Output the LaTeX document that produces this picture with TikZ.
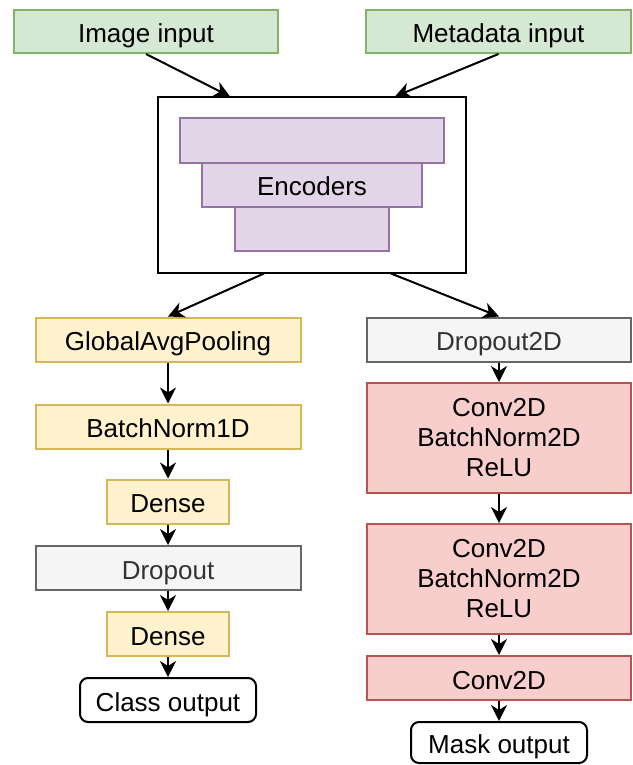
\documentclass[tikz,border=0pt]{standalone}
\usepackage{fontspec}
\setmainfont{Liberation Sans}
\usetikzlibrary{arrows.meta}

\definecolor{inputfill}{HTML}{D5E8D4}
\definecolor{inputline}{HTML}{82B366}
\definecolor{encfill}{HTML}{E1D5E7}
\definecolor{encline}{HTML}{9673A6}
\definecolor{headfill}{HTML}{FFF2CC}
\definecolor{headline}{HTML}{D6B656}
\definecolor{dropfill}{HTML}{F5F5F5}
\definecolor{dropline}{HTML}{666666}
\definecolor{droptext}{HTML}{333333}
\definecolor{convfill}{HTML}{F8CECC}
\definecolor{convline}{HTML}{B85450}

\begin{document}
\begin{tikzpicture}[x=1pt,y=-1pt,
	box/.style={draw, line width=2pt, inner sep=0pt, minimum height=44pt, align=center,
		text height=22pt, text depth=0pt, font=\fontsize{26}{30}\selectfont},
	multiline/.style={text height={}, text depth={}},
	inbox/.style={box, fill=inputfill, draw=inputline},
	encbox/.style={box, fill=encfill, draw=encline},
	headbox/.style={box, fill=headfill, draw=headline},
	dropbox/.style={box, fill=dropfill, draw=dropline, text=droptext},
	convbox/.style={box, fill=convfill, draw=convline},
	outbox/.style={box, draw=black, rounded corners=8pt},
	flow/.style={-{Stealth[length=16pt,width=16pt,inset=5pt]}, line width=2pt}]
	\useasboundingbox (0,0) rectangle (632,765);
	%\draw[help lines] (0,0) grid[step=50] (632,765);
	\node[inbox, minimum width=264pt, minimum height=43pt] (imgin) at (146,31.5) {Image input};
	\node[inbox, minimum width=265pt, minimum height=43pt] (metain) at (498.5,31.5) {Metadata input};

	\node[box, minimum width=308pt, minimum height=175pt] (enc) at (312,185) {};
	\node[encbox, minimum width=264pt] (layerA) at (312,140.5) {};
	\node[encbox, minimum width=220pt] (layerB) at (312,184.5) {Encoders};
	\node[encbox, minimum width=154pt] (layerC) at (312,228.5) {};

	\node[headbox, minimum width=265pt] (gap) at (168,339.5) {GlobalAvgPooling};
	\node[headbox, minimum width=265pt] (bn1) at (168,426.5) {BatchNorm1D};
	\node[headbox, minimum width=122pt] (dense1) at (168,501.5) {Dense};
	\node[dropbox, minimum width=265pt] (drop) at (168,568) {Dropout};
	\node[headbox, minimum width=122pt] (dense2) at (168,634) {Dense};
	\node[outbox, minimum width=176pt] (classout) at (168,700) {Class output};

	\node[dropbox, minimum width=264pt] (drop2d) at (499,339.5) {Dropout2D};
	\node[convbox, multiline, minimum width=264pt, minimum height=110pt] (convA) at (499,438) {Conv2D\\BatchNorm2D\\ReLU};
	\node[convbox, multiline, minimum width=264pt, minimum height=110pt] (convB) at (499,579) {Conv2D\\BatchNorm2D\\ReLU};
	\node[convbox, minimum width=264pt] (convC) at (499,678) {Conv2D};
	\node[outbox, minimum width=176pt, minimum height=41pt] (maskout) at (499,742.5) {Mask output};

	\draw[flow] (imgin.south) -- ([xshift=-82pt]enc.north);
	\draw[flow] (metain.south) -- ([xshift=83pt]enc.north);
	\draw[flow] ([xshift=-48pt]enc.south) -- (gap.north);
	\draw[flow] ([xshift=79pt]enc.south) -- (drop2d.north);

	\draw[flow] (gap.south) -- (bn1.north);
	\draw[flow] (bn1.south) -- (dense1.north);
	\draw[flow] (dense1.south) -- (drop.north);
	\draw[flow] (drop.south) -- (dense2.north);
	\draw[flow] (dense2.south) -- (classout.north);

	\draw[flow] (drop2d.south) -- (convA.north);
	\draw[flow] (convA.south) -- (convB.north);
	\draw[flow] (convB.south) -- (convC.north);
	\draw[flow] (convC.south) -- (maskout.north);
\end{tikzpicture}
\end{document}
